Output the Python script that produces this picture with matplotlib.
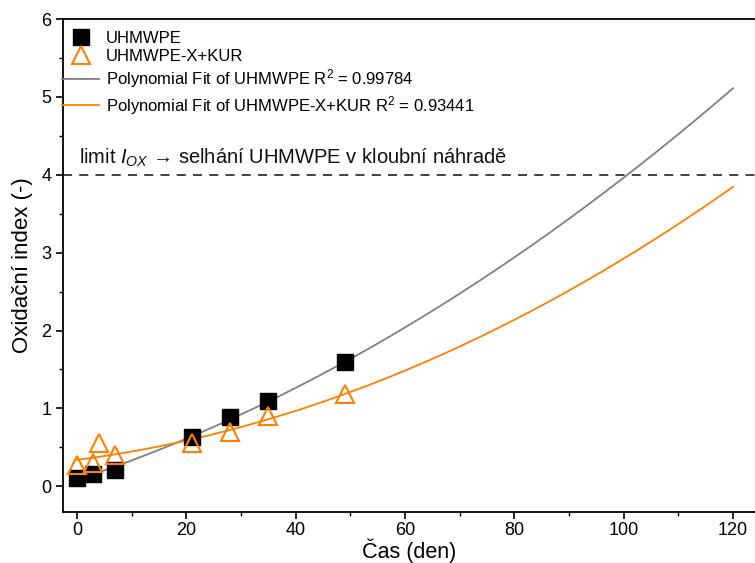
import numpy as np
import matplotlib
matplotlib.use("Agg")
import matplotlib.pyplot as plt
from matplotlib.ticker import MultipleLocator

plt.rcParams['font.family'] = ['Liberation Sans', 'DejaVu Sans']
plt.rcParams['mathtext.fontset'] = 'custom'
plt.rcParams['mathtext.rm'] = 'Liberation Sans'
plt.rcParams['mathtext.it'] = 'Liberation Sans:italic'

# data
t_uhmwpe = [0, 3, 7, 21, 28, 35, 49]
ox_uhmwpe = [0.11, 0.16, 0.21, 0.63, 0.89, 1.09, 1.59]
t_kur = [0, 3, 4, 7, 21, 28, 35, 49]
ox_kur = [0.27, 0.30, 0.56, 0.40, 0.56, 0.70, 0.90, 1.18]
fit_x_range = [0, 120]
limit_value = 4.0
x_ticks = [0, 20, 40, 60, 80, 100, 120]
y_ticks = [0, 1, 2, 3, 4, 5, 6]

gray = '#808080'
orange = '#FF8000'

fig = plt.figure(figsize=(7.55, 5.63), dpi=100)
ax = fig.add_axes([63/755, 1-512/563, (755-63)/755, (512-19)/563])

xf = np.linspace(fit_x_range[0], fit_x_range[1], 300)
c1 = np.polyfit(t_uhmwpe, ox_uhmwpe, 2)
c2 = np.polyfit(t_kur, ox_kur, 2)

ax.axhline(limit_value, color='#333333', ls=(0, (5, 4)), lw=1.3, zorder=1)

ax.plot(t_uhmwpe, ox_uhmwpe, 's', color='black', ms=11.5, label='UHMWPE', zorder=3)
ax.plot(t_kur, ox_kur, '^', mfc='none', mec=orange, mew=1.5, ms=13.5,
        label='UHMWPE-X+KUR', zorder=4)
ax.plot(xf, np.polyval(c1, xf), color=gray, lw=1.3,
        label='Polynomial Fit of UHMWPE R$^2$ = 0.99784', zorder=2)
ax.plot(xf, np.polyval(c2, xf), color=orange, lw=1.3,
        label='Polynomial Fit of UHMWPE-X+KUR R$^2$ = 0.93441', zorder=2)

ax.text(0.3, 4.07, 'limit $I_{OX}$ → selhání UHMWPE v kloubní náhradě',
        fontsize=14.5, ha='left', va='bottom', color='#111111')

ax.set_xlim(-2.56, 124.0)
ax.set_ylim(-0.33, 6.0)
ax.set_xticks(x_ticks)
ax.set_yticks(y_ticks)
ax.xaxis.set_minor_locator(MultipleLocator(10))
ax.yaxis.set_minor_locator(MultipleLocator(0.5))
ax.tick_params(which='major', direction='out', length=5, width=1.2, labelsize=13)
ax.tick_params(axis='x', which='major', pad=2)
ax.tick_params(which='minor', direction='out', length=3, width=1.0)
ax.spines['right'].set_visible(False)
for s in ['left', 'bottom', 'top']:
    ax.spines[s].set_linewidth(1.3)

ax.set_xlabel('Čas (den)', fontsize=15.5, labelpad=0)
ax.set_ylabel('Oxidační index (-)', fontsize=16, labelpad=6)

leg = ax.legend(loc='upper left', frameon=False, fontsize=12,
                bbox_to_anchor=(-0.025, 1.01), handlelength=2.2,
                handletextpad=0.4, labelspacing=0.2, borderaxespad=0.6)

fig.savefig('out.png', dpi=100)
